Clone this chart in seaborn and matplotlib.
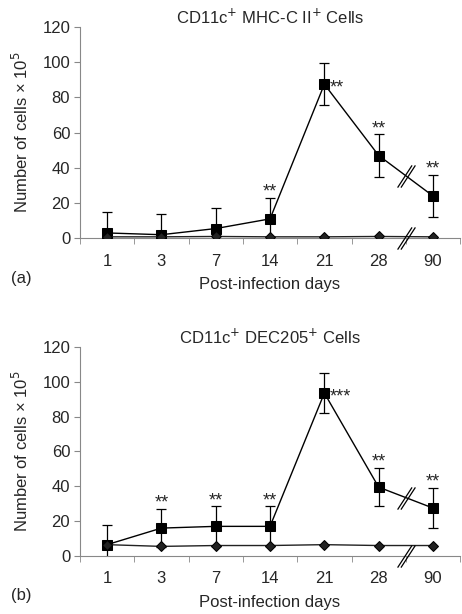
import matplotlib
matplotlib.use("Agg")
import matplotlib.pyplot as plt
from matplotlib.path import Path
import seaborn as sns
import numpy as np
import pandas as pd

days = ["1", "3", "7", "14", "21", "28", "90"]

# panel (a): CD11c+ MHC-C II+
a_infected = [3, 2, 5.5, 11, 87.5, 47, 24]
a_infected_err = [12, 12, 11.5, 12, 12, 12, 12]
a_control = [0.8, 0.8, 1.0, 0.8, 0.8, 1.0, 0.8]
a_stars = ["", "", "", "**", "**", "**", "**"]

# panel (b): CD11c+ DEC205+
b_infected = [6.5, 16, 17, 17, 93.5, 39.5, 27.5]
b_infected_err = [11.5, 11, 11.5, 11.5, 11.5, 11, 11.5]
b_control = [6.5, 5.5, 6, 6, 6.5, 6, 6]
b_stars = ["", "**", "**", "**", "***", "**", "**"]

titles = ["CD11c$^{+}$ MHC-C II$^{+}$ Cells", "CD11c$^{+}$ DEC205$^{+}$ Cells"]
panel_tags = ["(a)", "(b)"]

sns.set_style("ticks")
plt.rcParams["font.family"] = ["Liberation Sans", "DejaVu Sans"]
plt.rcParams["font.size"] = 12
fs = 12

fig = plt.figure(figsize=(4.62, 6.14), dpi=100)
ax_a = fig.add_axes([0.173, 0.612, 0.823, 0.344])
ax_b = fig.add_axes([0.173, 0.0945, 0.823, 0.3405])

# double slash used as break mark
brk = Path([(-0.8, -1), (0.5, 1), (-0.5, -1), (0.8, 1)],
           [Path.MOVETO, Path.LINETO, Path.MOVETO, Path.LINETO])

panels = [
    (ax_a, a_infected, a_infected_err, a_control, a_stars),
    (ax_b, b_infected, b_infected_err, b_control, b_stars),
]

for i, (ax, inf, err, ctl, stars) in enumerate(panels):
    pos = np.arange(len(days))
    df = pd.DataFrame({
        "pos": np.concatenate([pos, pos]),
        "cells": inf + ctl,
        "group": ["infected"] * len(days) + ["control"] * len(days),
    })
    sns.lineplot(data=df, x="pos", y="cells", style="group",
                 markers={"infected": "s", "control": "D"},
                 dashes=False, color="black", linewidth=1,
                 markersize=6.5, markeredgecolor="black",
                 legend=False, ax=ax, zorder=3)
    for ln in ax.lines:
        if ln.get_marker() == "D":
            ln.set_markersize(5)
            ln.set_color("#222222")
    ax.errorbar(pos, inf, yerr=err, fmt="none", ecolor="black",
                elinewidth=0.9, capsize=3.5, capthick=0.9, zorder=2)

    for p, v, e, s in zip(pos, inf, err, stars):
        if not s:
            continue
        if days[p] == "21":
            ax.annotate(s, (p, v), xytext=(4, -3), textcoords="offset points",
                        ha="left", va="center", fontsize=13)
        else:
            ax.annotate(s, (p, v + e), xytext=(0, -2), textcoords="offset points",
                        ha="center", va="bottom", fontsize=13)

    # axis-break marks between day 28 and day 90
    mid = (pos[-2] + pos[-1]) / 2
    ax.plot([mid], [(inf[-2] + inf[-1]) / 2], marker=brk, markersize=16,
            color="black", markeredgewidth=0.9, linestyle="none", zorder=4)
    ax.plot([mid], [0], marker=brk, markersize=16, color="black",
            markeredgewidth=0.9, linestyle="none", clip_on=False, zorder=4)

    ax.set_xlim(-0.5, len(days) - 0.5)
    ax.set_ylim(0, 120)
    ax.set_yticks(range(0, 121, 20))
    ax.set_xticks(pos)
    ax.set_xticklabels(days)
    ax.set_xticks(np.arange(-0.5, len(days), 1), minor=True)
    ax.tick_params(axis="x", which="major", length=0, pad=11, labelsize=fs)
    ax.tick_params(axis="x", which="minor", length=4, color="#888888")
    ax.tick_params(axis="y", length=4, color="#888888", labelsize=fs, pad=3)
    sns.despine(ax=ax)
    for sp in ["left", "bottom"]:
        ax.spines[sp].set_color("#888888")
        ax.spines[sp].set_linewidth(0.8)
    ax.set_xlabel("Post-infection days", fontsize=fs, labelpad=6)
    ax.set_ylabel("Number of cells \u00d7 10$^{5}$", fontsize=fs, labelpad=8)
    ax.set_title(titles[i], fontsize=fs, pad=0)
    ax.text(-0.18, -0.19, panel_tags[i], transform=ax.transAxes,
            fontsize=fs, ha="left", va="center")

fig.savefig("out.png", dpi=100)
